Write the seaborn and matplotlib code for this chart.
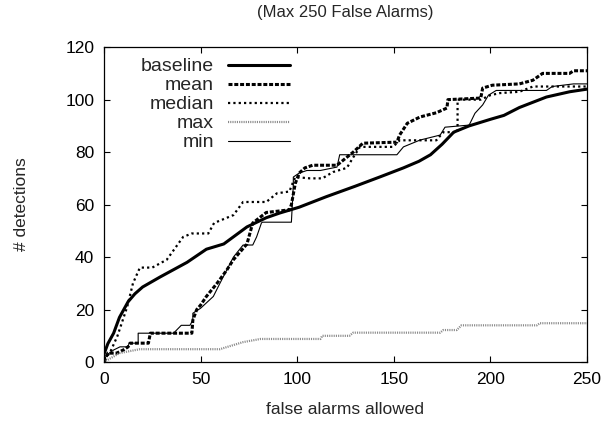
import pandas as pd
import matplotlib
matplotlib.use("Agg")
import matplotlib.pyplot as plt
import seaborn as sns

# curves (false alarms allowed -> # detections)
baseline_x = [0, 2, 5, 8, 12.5, 16, 20, 29, 43, 53, 62, 74, 84, 91, 101, 115, 130, 143, 155, 163, 169, 175, 181, 189, 200, 207, 215, 222, 229, 235, 241, 250]
baseline_y = [3, 7, 11, 17, 23, 26, 28.6, 32.4, 38, 43, 45, 51.5, 55, 56.8, 59, 63, 67, 70.6, 74, 76.5, 79, 83, 87.6, 90, 92.5, 94, 97, 99, 101, 102, 103, 104]

mean_x = [0, 2, 6.5, 10, 12.5, 13.5, 23, 24, 45.5, 46, 48, 50, 53, 58.5, 63.5, 67, 74, 77, 84, 96, 97, 99, 101, 104, 108, 120.6, 129, 134, 151.6, 153, 157, 163.6, 172, 177.5, 178, 195, 196, 201, 215, 222, 227, 241, 243, 250]
mean_y = [0, 3.4, 3.4, 4.6, 5.8, 7.2, 7.2, 11, 11, 16, 20, 21.7, 25, 30, 35, 39, 45, 53, 57, 58, 60, 68, 72, 74, 75, 75, 80, 83.4, 83.8, 86.5, 91, 93.4, 95, 96.8, 100, 100.6, 104.4, 105.5, 106, 107.4, 110, 110, 111, 111]

median_x = [0, 3, 7, 12, 15, 18.6, 25, 32.5, 41, 45.5, 54, 57, 67, 72, 84, 89.5, 96, 97, 99, 106.6, 113, 118.5, 125.7, 129, 132.5, 149.6, 153, 172, 175.6, 183, 183, 195, 200, 205, 215, 222, 250]
median_y = [1, 3.4, 10, 21, 30, 36, 36, 39, 47.7, 49, 49, 53, 56, 61, 61, 64.3, 65, 67, 70.5, 70, 70, 72.4, 74, 78, 82, 82, 84.5, 84.5, 87.6, 87.6, 100, 100, 101.7, 102.5, 103, 105, 105]

max_x = [0, 8, 13.5, 18.6, 60, 63.5, 72, 81, 112, 113, 127, 129, 174, 175.6, 182.6, 185, 224, 225.6, 250]
max_y = [0, 3.4, 4.2, 4.9, 4.9, 5.7, 7.6, 8.8, 8.8, 10, 10, 11.2, 11.2, 12.2, 12.2, 14, 14, 14.8, 14.8]

min_x = [0, 2, 5, 8.3, 12.5, 13, 17.7, 17.7, 36, 37.6, 40, 44.5, 46, 46, 50, 56.6, 60, 67, 72, 77, 79, 81.5, 82, 97, 98, 98, 101, 105, 112, 120.6, 122, 151.6, 155, 163.6, 174, 176.5, 189, 192, 196, 199, 203, 229, 232, 243, 250]
min_y = [1, 3, 4.6, 5.8, 5.8, 7.2, 7.2, 11, 11, 12.2, 14, 14, 16, 18.6, 20.5, 25, 30, 40, 44.6, 44.6, 47.7, 53, 53.3, 53.3, 67.5, 70.5, 72, 73, 73, 74.3, 79, 79, 82, 84.6, 86.5, 89.5, 90.3, 94.8, 98, 101.7, 103.5, 103.5, 105, 106, 106]

x_ticks = [0, 50, 100, 150, 200, 250]
y_ticks = [0, 20, 40, 60, 80, 100, 120]

sns.set_style("ticks")
plt.rcParams['font.family'] = ['Liberation Sans', 'DejaVu Sans']

fig = plt.figure(figsize=(6.08, 4.21), dpi=100)
ax = fig.add_axes([0.171, 0.140, 0.7945, 0.748])

# name, x, y, color, linewidth, dash pattern
series = [
    ("baseline", baseline_x, baseline_y, "black", 2.2, None),
    ("mean", mean_x, mean_y, "black", 2.2, (1.3, 0.6)),
    ("median", median_x, median_y, "black", 1.6, (1.0, 1.4)),
    ("max", max_x, max_y, "#8a8a8a", 1.6, (0.5, 0.5)),
    ("min", min_x, min_y, "black", 0.8, None),
]

for name, xs, ys, col, lw, dash in series:
    df = pd.DataFrame({"x": xs, "y": ys})
    sns.lineplot(data=df, x="x", y="y", ax=ax, color=col, linewidth=lw,
                 estimator=None, sort=False, label=name)
    if dash is not None:
        ax.lines[-1].set_dashes(dash)

ax.set_xlim(0, 250)
ax.set_ylim(0, 120)
ax.set_xticks(x_ticks)
ax.set_yticks(y_ticks)
ax.tick_params(direction="in", length=4, width=0.8, top=True, right=True,
               labelsize=12.5, colors="black", pad=7)
for sp in ax.spines.values():
    sp.set_visible(True)
    sp.set_linewidth(0.9)
    sp.set_color("black")

ax.set_xlabel("false alarms allowed", fontsize=12.5, labelpad=11)
ax.set_ylabel("# detections", fontsize=12.5, labelpad=26)
ax.set_title("(Max 250 False Alarms)", fontsize=12, pad=22)

ax.legend(loc="upper right", bbox_to_anchor=(0.385, 0.966), frameon=False,
          markerfirst=False, fontsize=14, handlelength=3.2, handletextpad=0.7,
          labelspacing=0.07, borderaxespad=0, borderpad=0)

fig.savefig("out.png", dpi=100)
